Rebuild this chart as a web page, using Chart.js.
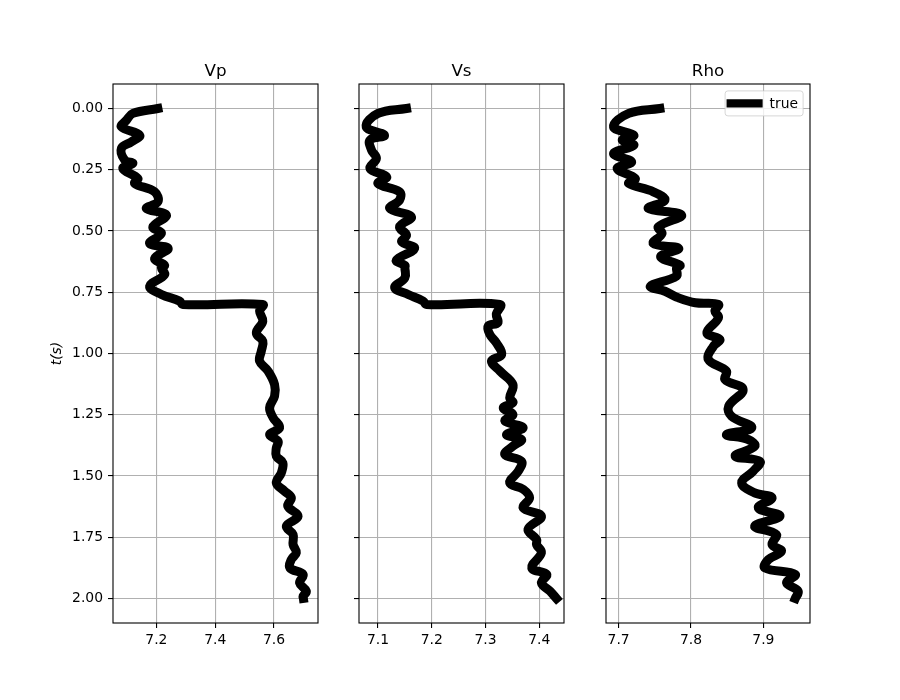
<!DOCTYPE html>
<html>
<head>
<meta charset="utf-8">
<script src="https://cdn.jsdelivr.net/npm/chart.js@4"></script>
<style>
  body { margin: 0; background: #fff; }
  #wrap { position: relative; width: 900px; height: 700px; }
  canvas { position: absolute; left: 0; top: 0; }
</style>
</head>
<body>
<div id="wrap">
  <canvas id="vp" width="900" height="700"></canvas>
  <canvas id="vs" width="900" height="700"></canvas>
  <canvas id="rho" width="900" height="700"></canvas>
</div>
<script>
// time ticks (shared y axis) and per-panel x ticks
const tTicks = [0, 0.25, 0.5, 0.75, 1.0, 1.25, 1.5, 1.75, 2.0];
const vpTicks = [7.2, 7.4, 7.6];
const vsTicks = [7.1, 7.2, 7.3, 7.4];
const rhoTicks = [7.7, 7.8, 7.9];
const titles = ['Vp', 'Vs', 'Rho'];
const seriesLabel = 'true';

// Vp log
const vpT = [0, 0.02, 0.048, 0.075, 0.109, 0.136, 0.163, 0.21, 0.224, 0.245, 0.286, 0.306, 0.34, 0.381, 0.408, 0.435, 0.483, 0.51, 0.551, 0.571, 0.612, 0.64, 0.65, 0.678, 0.725, 0.759, 0.786, 0.8, 0.8, 0.827, 0.868, 0.916, 0.95, 0.99, 1.031, 1.072, 1.127, 1.174, 1.222, 1.262, 1.303, 1.331, 1.358, 1.385, 1.419, 1.446, 1.487, 1.528, 1.562, 1.589, 1.623, 1.664, 1.705, 1.739, 1.78, 1.813, 1.841, 1.875, 1.902, 1.936, 1.97, 1.991, 2.0];
const vp = [7.205, 7.12, 7.098, 7.081, 7.143, 7.115, 7.081, 7.092, 7.12, 7.086, 7.137, 7.126, 7.194, 7.205, 7.166, 7.234, 7.188, 7.217, 7.177, 7.24, 7.194, 7.228, 7.217, 7.228, 7.177, 7.217, 7.279, 7.29, 7.562, 7.551, 7.562, 7.54, 7.562, 7.557, 7.551, 7.58, 7.602, 7.602, 7.585, 7.597, 7.619, 7.585, 7.614, 7.608, 7.608, 7.63, 7.625, 7.608, 7.636, 7.659, 7.647, 7.682, 7.642, 7.665, 7.665, 7.676, 7.659, 7.654, 7.699, 7.687, 7.71, 7.699, 7.70];

// Vs log
const vsT = [0, 0.02, 0.075, 0.109, 0.129, 0.17, 0.204, 0.245, 0.279, 0.306, 0.34, 0.374, 0.408, 0.442, 0.483, 0.517, 0.544, 0.571, 0.619, 0.64, 0.65, 0.691, 0.731, 0.759, 0.786, 0.8, 0.8, 0.84, 0.874, 0.888, 0.922, 0.956, 1.004, 1.031, 1.072, 1.127, 1.181, 1.2, 1.222, 1.249, 1.276, 1.303, 1.331, 1.351, 1.378, 1.412, 1.44, 1.48, 1.528, 1.554, 1.589, 1.63, 1.664, 1.718, 1.759, 1.78, 1.813, 1.875, 1.902, 1.936, 1.97, 2.0];
const vs = [7.153, 7.10, 7.078, 7.112, 7.085, 7.088, 7.097, 7.085, 7.116, 7.10, 7.14, 7.14, 7.122, 7.162, 7.14, 7.153, 7.144, 7.168, 7.134, 7.15, 7.15, 7.15, 7.131, 7.156, 7.184, 7.19, 7.327, 7.32, 7.323, 7.305, 7.308, 7.32, 7.33, 7.311, 7.327, 7.351, 7.345, 7.351, 7.333, 7.351, 7.336, 7.37, 7.339, 7.367, 7.351, 7.336, 7.367, 7.361, 7.345, 7.37, 7.382, 7.37, 7.404, 7.379, 7.395, 7.395, 7.404, 7.386, 7.414, 7.404, 7.42, 7.432];

// Rho log
const rhoT = [0, 0.02, 0.075, 0.109, 0.129, 0.15, 0.184, 0.218, 0.245, 0.286, 0.306, 0.34, 0.374, 0.408, 0.435, 0.483, 0.51, 0.551, 0.571, 0.605, 0.64, 0.65, 0.684, 0.725, 0.746, 0.773, 0.793, 0.8, 0.827, 0.854, 0.916, 0.943, 0.97, 1.024, 1.072, 1.106, 1.147, 1.215, 1.256, 1.303, 1.331, 1.351, 1.378, 1.419, 1.44, 1.48, 1.528, 1.569, 1.589, 1.63, 1.664, 1.705, 1.739, 1.78, 1.807, 1.841, 1.875, 1.902, 1.936, 1.97, 2.0];
const rho = [7.757, 7.714, 7.693, 7.721, 7.705, 7.721, 7.693, 7.718, 7.698, 7.723, 7.714, 7.748, 7.764, 7.741, 7.787, 7.755, 7.76, 7.748, 7.783, 7.758, 7.785, 7.78, 7.78, 7.744, 7.764, 7.783, 7.806, 7.838, 7.833, 7.838, 7.822, 7.84, 7.831, 7.824, 7.849, 7.847, 7.872, 7.852, 7.856, 7.884, 7.849, 7.879, 7.888, 7.861, 7.895, 7.886, 7.87, 7.888, 7.912, 7.893, 7.923, 7.888, 7.918, 7.912, 7.925, 7.907, 7.902, 7.944, 7.932, 7.948, 7.944];

Chart.defaults.font.family = '"DejaVu Sans", sans-serif';
Chart.defaults.font.size = 13.9;
Chart.defaults.color = '#000';

// axes frame, panel title and (optionally) legend, drawn like matplotlib
const framePlugin = {
  id: 'frame',
  afterDraw(chart, args, opts) {
    const { ctx, chartArea: a } = chart;
    ctx.save();
    ctx.strokeStyle = '#000';
    ctx.lineWidth = 1.1;
    ctx.strokeRect(a.left, a.top, a.right - a.left, a.bottom - a.top);

    ctx.fillStyle = '#000';
    ctx.font = '16.7px "DejaVu Sans", sans-serif';
    ctx.textAlign = 'center';
    ctx.textBaseline = 'alphabetic';
    ctx.fillText(opts.title, (a.left + a.right) / 2, a.top - 8.3);

    if (opts.legend) {
      const w = 78, h = 25;
      const x = a.right - 6.9 - w, y = a.top + 6.9;
      ctx.beginPath();
      ctx.roundRect(x, y, w, h, 2.8);
      ctx.fillStyle = 'rgba(255,255,255,0.8)';
      ctx.fill();
      ctx.strokeStyle = 'rgba(204,204,204,0.8)';
      ctx.lineWidth = 1;
      ctx.stroke();
      const ds = chart.data.datasets[0];
      const cy = y + h / 2;
      ctx.beginPath();
      ctx.moveTo(x + 5.6, cy);
      ctx.lineTo(x + 5.6 + 27.8, cy);
      ctx.strokeStyle = ds.borderColor;
      ctx.lineWidth = 8.3;
      ctx.lineCap = 'square';
      ctx.stroke();
      ctx.fillStyle = '#000';
      ctx.font = '13.9px "DejaVu Sans", sans-serif';
      ctx.textAlign = 'left';
      ctx.textBaseline = 'middle';
      ctx.fillText(ds.label, x + 5.6 + 27.8 + 11.1, cy + 0.5);
    }
    ctx.restore();
  }
};

const gridStyle = { color: '#b0b0b0', lineWidth: 1.1, tickColor: '#000', tickWidth: 1.1, tickLength: 5 };

function makeLog(id, t, vals, xMin, xMax, xTicks, title, box, first, legend) {
  return new Chart(document.getElementById(id), {
    type: 'scatter',
    data: {
      datasets: [{
        label: seriesLabel,
        data: t.map((tt, i) => ({ x: vals[i], y: tt })),
        showLine: true,
        borderColor: '#000',
        borderWidth: 9,
        pointRadius: 0,
        tension: 0.4,
        borderCapStyle: 'square',
        borderJoinStyle: 'round',
        fill: false
      }]
    },
    options: {
      responsive: false,
      animation: false,
      events: [],
      layout: { padding: { left: box.left - (first ? 64 : 5), right: 900 - box.right, top: 84, bottom: 47 } },
      plugins: {
        legend: { display: false },
        tooltip: { enabled: false },
        frame: { title: title, legend: legend }
      },
      scales: {
        x: {
          type: 'linear', min: xMin, max: xMax, bounds: 'data',
          afterBuildTicks: s => { s.ticks = xTicks.map(v => ({ value: v })); },
          afterFit: s => { s.height = 30; },
          grid: gridStyle,
          border: { display: false },
          ticks: { callback: v => v.toFixed(1), padding: 4, maxRotation: 0 }
        },
        y: {
          type: 'linear', reverse: true, min: -0.1, max: 2.1, bounds: 'data',
          afterBuildTicks: s => { s.ticks = tTicks.map(v => ({ value: v })); },
          afterFit: s => { s.width = first ? 64 : 5; },
          grid: gridStyle,
          border: { display: false },
          ticks: { display: first, callback: v => v.toFixed(2), padding: 5 },
          title: { display: first, text: 't(s)', padding: 0, font: { style: 'italic', size: 13.9 } }
        }
      }
    },
    plugins: [framePlugin]
  });
}

makeLog('vp', vpT, vp, 7.0524, 7.7497, vpTicks, titles[0], { left: 113, right: 318 }, true, false);
makeLog('vs', vsT, vs, 7.0646, 7.446, vsTicks, titles[1], { left: 359, right: 564 }, false, false);
makeLog('rho', rhoT, rho, 7.6826, 7.9644, rhoTicks, titles[2], { left: 606, right: 810 }, false, true);
</script>
</body>
</html>
